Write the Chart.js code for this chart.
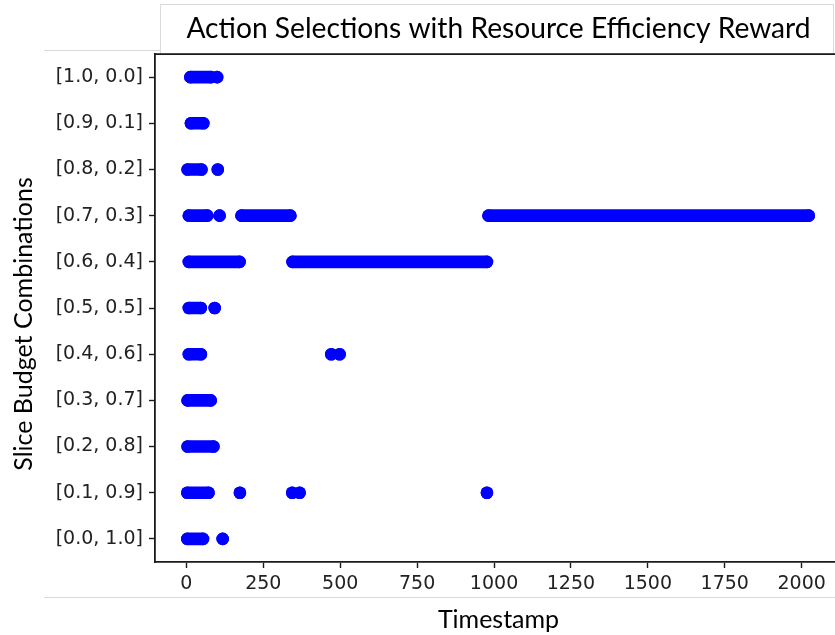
<!DOCTYPE html>
<html>
<head>
<meta charset="utf-8">
<script src="https://cdn.jsdelivr.net/npm/chart.js@4.4.1/dist/chart.umd.min.js"></script>
<style>
  html, body { margin: 0; padding: 0; background: #fff; overflow: hidden; }
  #wrap { width: 850px; height: 635px; }
</style>
</head>
<body>
<div id="wrap"><canvas id="c" width="850" height="635"></canvas></div>
<script>
// Budget combinations, top of the axis first
const categories = [
  '[1.0, 0.0]', '[0.9, 0.1]', '[0.8, 0.2]', '[0.7, 0.3]', '[0.6, 0.4]', '[0.5, 0.5]',
  '[0.4, 0.6]', '[0.3, 0.7]', '[0.2, 0.8]', '[0.1, 0.9]', '[0.0, 1.0]'
];

// Timestamp spans during which each combination was selected: [first, last]
const runs10_00 = [[13, 80], [100, 100]];
const runs09_01 = [[15, 55]];
const runs08_02 = [[4, 49], [102, 102]];
const runs07_03 = [[8, 68], [108, 108], [179, 338], [982, 2023]];
const runs06_04 = [[8, 173], [345, 977]];
const runs05_05 = [[8, 47], [92, 92]];
const runs04_06 = [[8, 47], [471, 471], [498, 498]];
const runs03_07 = [[4, 79]];
const runs02_08 = [[4, 88]];
const runs01_09 = [[3, 72], [174, 174], [344, 344], [368, 368], [977, 977]];
const runs00_10 = [[3, 54], [118, 118]];

const rowRuns = [runs10_00, runs09_01, runs08_02, runs07_03, runs06_04, runs05_05,
                 runs04_06, runs03_07, runs02_08, runs01_09, runs00_10];

// Timestamp axis ticks
const xTicks = [0, 250, 500, 750, 1000, 1250, 1500, 1750, 2000];
const xMin = -102, xMax = 2131;

const MARK = '#0000ff';
const INK = '#1a1a1a';
const TICK_FONT = { family: "'DejaVu Sans', sans-serif", size: 19 };

function rowData(label, runs) {
  const pts = [];
  runs.forEach(([a, b]) => {
    pts.push({ x: a, y: label });
    if (b !== a) pts.push({ x: b, y: label });
    pts.push({ x: null, y: null }); // break between spans
  });
  return pts;
}

const datasets = categories.map((label, i) => ({
  label,
  data: rowData(label, rowRuns[i]),
  showLine: true,
  spanGaps: false,
  borderColor: MARK,
  backgroundColor: MARK,
  borderWidth: 12.6,
  borderCapStyle: 'round',
  borderJoinStyle: 'round',
  pointRadius: 6.3,
  pointBorderWidth: 0,
  pointHoverRadius: 6.3
}));

const frame = {
  id: 'frame',
  beforeDraw(chart) {
    const ctx = chart.ctx;
    ctx.save();
    ctx.fillStyle = '#ffffff';
    ctx.fillRect(0, 0, chart.width, chart.height);
    ctx.strokeStyle = '#d9d9d9';
    ctx.lineWidth = 1;
    // title panel
    ctx.strokeRect(160.5, 4.5, 673, chart.chartArea.top - 4.5);
    // panel rules
    ctx.beginPath();
    ctx.moveTo(44, 50.5); ctx.lineTo(160, 50.5);
    ctx.moveTo(44, 597.5); ctx.lineTo(chart.width, 597.5);
    ctx.stroke();
    ctx.restore();
  },
  afterDraw(chart) {
    const ctx = chart.ctx;
    const a = chart.chartArea;
    ctx.save();
    // top and right spines
    ctx.strokeStyle = INK;
    ctx.lineWidth = 1.8;
    ctx.beginPath();
    ctx.moveTo(a.left - 0.9, a.top);
    ctx.lineTo(a.right, a.top);
    ctx.lineTo(a.right, a.bottom);
    ctx.stroke();
    // y axis title
    ctx.fillStyle = '#000';
    ctx.font = '25px Lato';
    ctx.textAlign = 'center';
    ctx.textBaseline = 'middle';
    ctx.translate(24, 324);
    ctx.rotate(-Math.PI / 2);
    ctx.fillText('Slice Budget Combinations', 0, 0);
    ctx.restore();
  }
};

new Chart(document.getElementById('c'), {
  type: 'scatter',
  data: { datasets },
  plugins: [frame],
  options: {
    responsive: false,
    animation: false,
    devicePixelRatio: 1,
    layout: { padding: { left: 0, right: 8, top: 0, bottom: 0 } },
    plugins: {
      legend: { display: false },
      tooltip: { enabled: false },
      title: {
        display: true,
        text: 'Action Selections with Resource Efficiency Reward',
        fullSize: false,
        color: '#000',
        font: { family: 'Lato', size: 28.2, weight: 'normal', lineHeight: 1.2 },
        padding: { top: 12, bottom: 8.2 }
      }
    },
    scales: {
      x: {
        type: 'linear',
        min: xMin,
        max: xMax,
        afterFit(s) { s.height = 73; s.paddingRight = 0; s.paddingLeft = 0; },
        afterBuildTicks(s) { s.ticks = xTicks.map(v => ({ value: v })); },
        ticks: {
          color: '#222',
          padding: 5,
          maxRotation: 0,
          autoSkip: false,
          callback: v => String(v),
          font: TICK_FONT
        },
        grid: { drawOnChartArea: false, drawTicks: true, tickLength: 6, tickColor: INK, tickWidth: 1.4 },
        border: { display: true, color: INK, width: 1.8 },
        title: {
          display: true,
          text: 'Timestamp',
          color: '#000',
          font: { family: 'Lato', size: 25, lineHeight: 1.2 },
          padding: { top: 0, bottom: 0 }
        }
      },
      y: {
        type: 'category',
        labels: categories,
        offset: true,
        afterFit(s) { s.width = 155; },
        ticks: {
          color: '#222',
          padding: 6,
          font: TICK_FONT
        },
        grid: { drawOnChartArea: false, drawTicks: true, tickLength: 6, tickColor: INK, tickWidth: 1.4, offset: false },
        border: { display: true, color: INK, width: 1.8 }
      }
    }
  }
});
</script>
</body>
</html>
